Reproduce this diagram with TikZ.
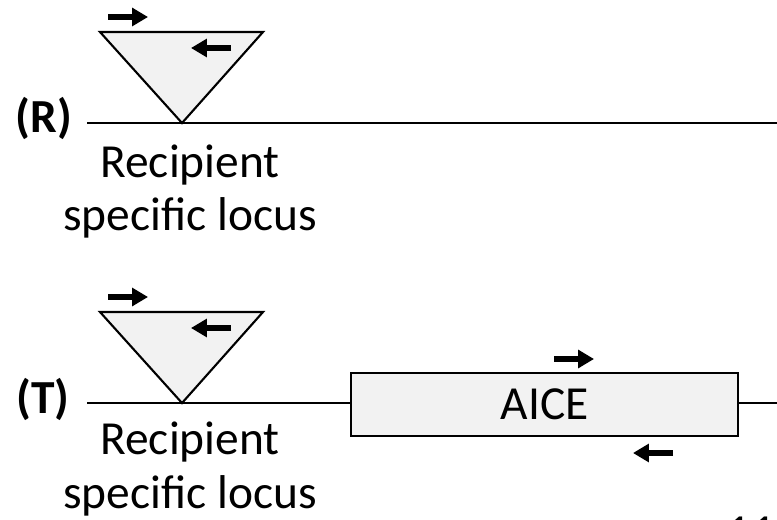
\documentclass[tikz,border=0pt]{standalone}
\usepackage{fontspec}
\setmainfont{Carlito}
\usetikzlibrary{arrows.meta, positioning}
\definecolor{cFill}{RGB}{242,242,242}
\tikzset{
	dna/.style      ={line width=1.2pt},
	insert/.style   ={draw=black, line width=1.2pt, fill=cFill, line join=miter},
	elem/.style     ={rectangle, draw=black, line width=1.2pt, fill=cFill, minimum width=387*0.02cm, minimum height=63*0.02cm, inner sep=0pt, font=\fontsize{27}{31}\selectfont},
	primer/.style   ={-{Triangle[length=9pt, width=10pt]}, line width=3.4pt},
	lbl/.style      ={align=center, inner sep=0pt, font=\fontsize{27}{30.7}\selectfont},
	tag/.style      ={inner sep=0pt, font=\fontsize{27}{31}\selectfont\bfseries},
}
\begin{document}
\begin{tikzpicture}[x=0.02cm, y=-0.02cm]
	\useasboundingbox (0,0) rectangle (777,520);
	\clip (0,0) rectangle (777,520);
	% (R) recipient
	\coordinate (rL) at (87,123);
	\coordinate (rR) at (777,123);
	\coordinate (rTip) at (182,123);
	\draw[dna] (rL) -- (rR);
	\draw[insert] (100,32) -- (263,32) -- (rTip) -- cycle;
	\draw[primer] (108,17) -- (148,17);
	\draw[primer] (231,48) -- (191,48);
	\node[tag, anchor=base] (rTag) at (44,133) {(R)};
	\node[lbl, anchor=base] (rLocus) at (190,231) {Recipient\\specific locus};
	% (T) transconjugant
	\coordinate (tL) at (87,403);
	\coordinate (tR) at (777,403);
	\coordinate (tTip) at (182,403);
	\draw[dna] (tL) -- (tR);
	\draw[insert] (100,312) -- (263,312) -- (tTip) -- cycle;
	\draw[primer] (108,297) -- (148,297);
	\draw[primer] (231,328) -- (191,328);
	\node[elem] (aice) at (544.5,404.5) {AICE};
	\draw[primer] (554,359) -- (594,359);
	\draw[primer] (673,453) -- (633,453);
	\node[tag, anchor=base] (tTag) at (43,413) {(T)};
	\node[lbl, anchor=base] (tLocus) at (190,508) {Recipient\\specific locus};
	\node[lbl, anchor=base] (page) at (751,547) {11};
\end{tikzpicture}
\end{document}
